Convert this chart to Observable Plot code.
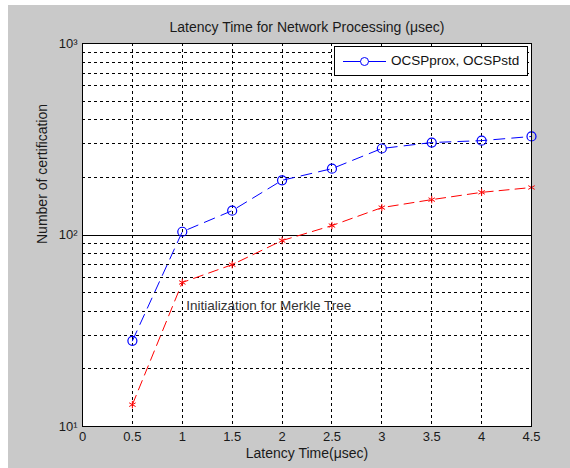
<!DOCTYPE html>
<html>
<head>
<meta charset="utf-8">
<script src="https://cdn.jsdelivr.net/npm/d3@7"></script>
<script src="https://cdn.jsdelivr.net/npm/@observablehq/plot@0.6"></script>
<style>
  html, body { margin: 0; padding: 0; background: #ffffff; }
  #figure {
    position: absolute; left: 8px; top: 5px; width: 562px; height: 463px;
    background: #c9c9c9; font-family: "Liberation Sans", Arial, sans-serif;
  }
  #legend {
    position: absolute; left: 326px; top: 41px; width: 192px; height: 28px;
    background: #ffffff; border: 1px solid #000;
  }
  #legend svg { position: absolute; left: 0; top: 0; }
  #legend span {
    position: absolute; left: 56px; top: 6px; font-size: 13.5px; color: #111; white-space: nowrap;
  }
</style>
</head>
<body>
<div id="figure">
  <div id="chart"></div>
  <div id="legend">
    <svg width="56" height="28">
      <line x1="8" x2="51" y1="14.5" y2="14.5" stroke="#0000ff" stroke-width="1"></line>
      <circle cx="29.5" cy="14.5" r="4" fill="#ffffff" stroke="#0000ff" stroke-width="1"></circle>
    </svg>
    <span>OCSPprox, OCSPstd</span>
  </div>
</div>
<script>
// Latency (µsec) on the x axis
const latency = [0.5, 1, 1.5, 2, 2.5, 3, 3.5, 4, 4.5];
// Number of certifications for each method
const ocspProx = [28, 104, 134, 193, 222, 283, 304, 311, 327];
const ocspStd = [13, 56.5, 70, 93.5, 112, 139, 153, 167, 177];

const xTicks = [0, 0.5, 1, 1.5, 2, 2.5, 3, 3.5, 4, 4.5];
const xGrid = [0.5, 1, 1.5, 2, 2.5, 3, 3.5, 4];
const yTicks = [10, 100, 1000];
const yTickLabels = ["10\u00B9", "10\u00B2", "10\u00B3"];
const yMinorGrid = [20, 30, 40, 50, 60, 70, 80, 90, 200, 300, 400, 500, 600, 700, 800, 900];

const titleText = "Latency Time for Network Processing (\u03BCsec)";
const xLabel = "Latency Time(\u03BCsec)";
const yLabel = "Number of certification";
const note = {x: 1.04, y: 43, text: "Initialization for Merkle Tree"};

const rows = latency.map((x, i) => ({x, prox: ocspProx[i], std: ocspStd[i]}));

const gridStyle = {stroke: "#000", strokeDasharray: "3,3", strokeWidth: 1, shapeRendering: "crispEdges"};

const chart = Plot.plot({
  width: 562,
  height: 463,
  marginLeft: 74,
  marginRight: 39,
  marginTop: 38,
  marginBottom: 42,
  style: {
    fontFamily: "'Liberation Sans', Arial, sans-serif",
    fontSize: "13px",
    background: "transparent",
    color: "#1a1a1a"
  },
  x: {domain: [0, 4.5]},
  y: {type: "log", domain: [10, 1000]},
  marks: [
    Plot.frame({fill: "#ffffff", stroke: null}),
    Plot.ruleX(xGrid, gridStyle),
    Plot.ruleY(yMinorGrid, gridStyle),
    Plot.ruleY([100], {stroke: "#000", strokeWidth: 1, shapeRendering: "crispEdges"}),
    Plot.line(rows, {x: "x", y: "prox", stroke: "#0000ff", strokeWidth: 1, strokeDasharray: "11,7"}),
    Plot.dot(rows, {x: "x", y: "prox", r: 4.5, stroke: "#0000ff", fill: "none", strokeWidth: 1.2}),
    Plot.line(rows, {x: "x", y: "std", stroke: "#ff0000", strokeWidth: 1, strokeDasharray: "10,6"}),
    Plot.dot(rows, {x: "x", y: "std", r: 3.5, symbol: "asterisk", stroke: "#ff0000", strokeWidth: 1}),
    Plot.text([note], {x: "x", y: "y", text: "text", textAnchor: "start", fill: "#333", fontSize: 13.5}),
    Plot.frame({stroke: "#000", strokeWidth: 1, shapeRendering: "crispEdges"}),
    Plot.axisX({ticks: xTicks, tickSize: 0, tickPadding: 5, tickFormat: d => String(d), label: null, fontSize: 13}),
    Plot.axisY({ticks: yTicks, tickSize: 0, tickPadding: 5, tickFormat: d => yTickLabels[yTicks.indexOf(d)], label: null, fontSize: 13}),
    Plot.text([titleText], {frameAnchor: "top", dy: -21, fontSize: 14, fill: "#1a1a1a"}),
    Plot.text([xLabel], {frameAnchor: "bottom", dy: 31, fontSize: 14, fill: "#1a1a1a"}),
    Plot.text([yLabel], {frameAnchor: "left", dx: -40, dy: 9, rotate: -90, fontSize: 14, fill: "#1a1a1a"})
  ]
});
document.getElementById("chart").appendChild(chart);
</script>
</body>
</html>
